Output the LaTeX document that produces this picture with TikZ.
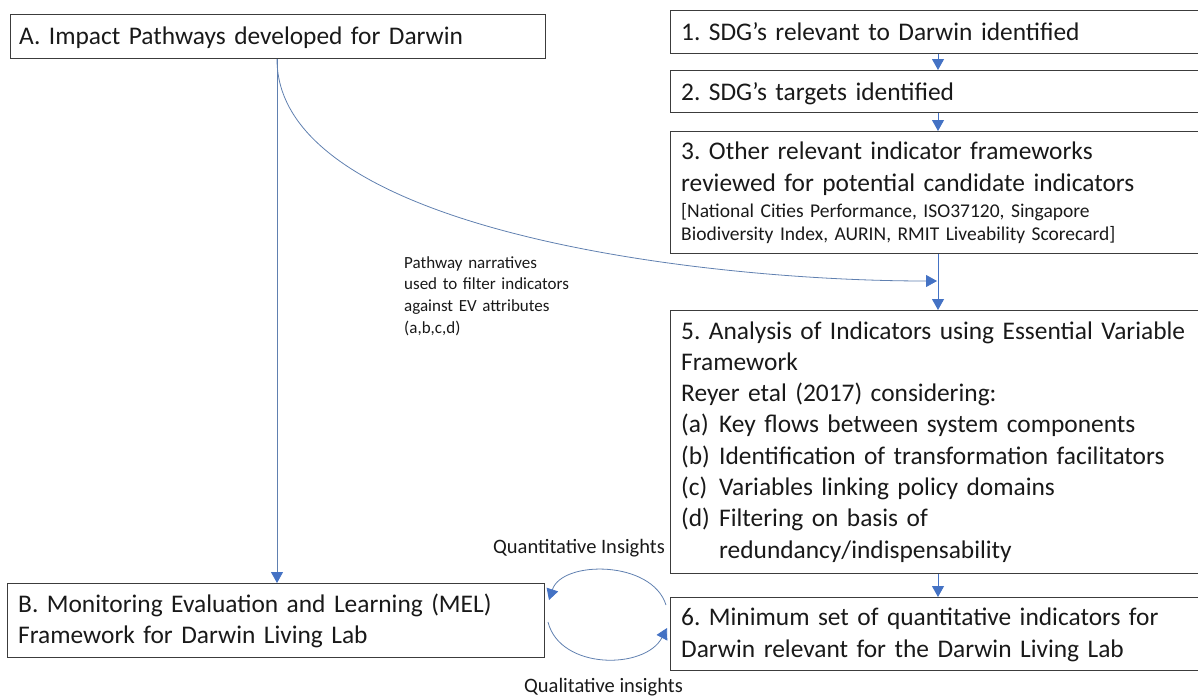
\documentclass[tikz,border=0pt]{standalone}
\usepackage{fontspec}
\setmainfont{Carlito}
\usetikzlibrary{arrows.meta,calc}
\definecolor{linkblue}{RGB}{68,114,196}
\definecolor{curveblue}{RGB}{96,128,176}
\definecolor{edge}{RGB}{60,60,60}
\definecolor{ink}{RGB}{25,25,25}
\frenchspacing
% box text: Carlito with a given line pitch
\newcommand{\boxfont}[1]{\fontsize{25.4}{#1}\selectfont}
\begin{document}
\begin{tikzpicture}[x=1pt,y=1pt,
  box/.style={draw=edge, line width=1.1pt, inner sep=0pt, anchor=north west},
  txt/.style={anchor=base west, inner sep=0pt, text=ink, text width=600pt},
  small/.style={font=\fontsize{19.5}{23.5}\selectfont},
  note/.style={font=\fontsize{17}{21.8}\selectfont},
  insight/.style={anchor=base, inner sep=0pt, text=ink, font=\fontsize{20.5}{24}\selectfont},
  conn/.style={draw=linkblue, line width=1pt, -{Triangle[length=11pt,width=12pt]}},
  curvelink/.style={draw=curveblue, line width=0.8pt, -{Triangle[length=11pt,width=12pt,color=linkblue,fill=linkblue]}}
]
\useasboundingbox (0,0) rectangle (1198,-697);
\clip (0,0) rectangle (1198,-697);

% boxes
\node[box, minimum width=535pt, minimum height=44pt] (boxA) at (10,-14) {};
\node[box, minimum width=537pt, minimum height=74pt] (boxB) at (7,-583) {};
\node[box, minimum width=540pt, minimum height=43.5pt] (box1) at (670,-9.5) {};
\node[box, minimum width=540pt, minimum height=42pt] (box2) at (670,-70) {};
\node[box, minimum width=540pt, minimum height=122pt] (box3) at (670,-131) {};
\node[box, minimum width=540pt, minimum height=263pt] (box5) at (670,-310) {};
\node[box, minimum width=540pt, minimum height=73pt] (box6) at (670,-597) {};

% box texts
\node[txt, font=\boxfont{31.5}] (tA) at (19,-44.5) {A. Impact Pathways developed for Darwin};
\node[txt, font=\boxfont{31}] (tB) at (18,-612)
  {B. Monitoring Evaluation and Learning (MEL)\\Framework for Darwin Living Lab};
\node[txt, font=\boxfont{31.5}] (t1) at (681,-40) {1. SDG’s relevant to Darwin identified};
\node[txt, font=\boxfont{31.5}] (t2) at (681,-100) {2. SDG’s targets identified};
\node[txt, font=\boxfont{32}] (t3) at (681,-159)
  {3. Other relevant indicator frameworks\\reviewed for potential candidate indicators};
\node[txt, small] (t3s) at (681,-217)
  {[National Cities Performance, ISO37120, Singapore\\Biodiversity Index, AURIN, RMIT Liveability Scorecard]};
\node[txt, font=\boxfont{31.3}] (t5) at (681,-339)
  {5. Analysis of Indicators using Essential Variable\\
   Framework\\
   Reyer etal (2017) considering:\\
   \makebox[38pt][l]{(a)}Key flows between system components\\
   \makebox[38pt][l]{(b)}Identification of transformation facilitators\\
   \makebox[38pt][l]{(c)}Variables linking policy domains\\
   \makebox[38pt][l]{(d)}Filtering on basis of\\
   \hspace*{38pt}redundancy/indispensability};
\node[txt, font=\boxfont{32}] (t6) at (681,-625)
  {6. Minimum set of quantitative indicators for\\Darwin relevant for the Darwin Living Lab};

% connector labels
\node[txt, note] (lblPath) at (404,-268)
  {Pathway narratives\\used to filter indicators\\against EV attributes\\(a,b,c,d)};
\node[insight] (lblQuant) at (579,-553) {Quantitative Insights};
\node[insight] (lblQual) at (603.5,-692) {Qualitative insights};

% reference points for the connectors
\coordinate (xr) at (938,0);
\path (boxA.south west) ++(267,0) coordinate (aOut);
\coordinate (join) at (937,-281);

% sequence of steps on the right
\draw[conn] (box1.south -| xr) -- (box2.north -| xr);
\draw[conn] (box2.south -| xr) -- (box3.north -| xr);
\draw[conn] (box3.south -| xr) -- (box5.north -| xr);
\draw[conn] (box5.south -| xr) -- (box6.north -| xr);

% pathways feeding the MEL framework and the indicator filter
\draw[curvelink] (aOut) -- (aOut |- boxB.north);
\draw[curvelink] (aOut) .. controls (277,-230) and (700,-281) .. (join);

% feedback loop between the indicator set and the MEL framework
\draw[curvelink] (666,-605) .. controls (652,-560) and (562,-560) .. (549,-600);
\draw[curvelink] (548,-622) .. controls (560,-670) and (645,-670) .. (667,-628);
\end{tikzpicture}
\end{document}
